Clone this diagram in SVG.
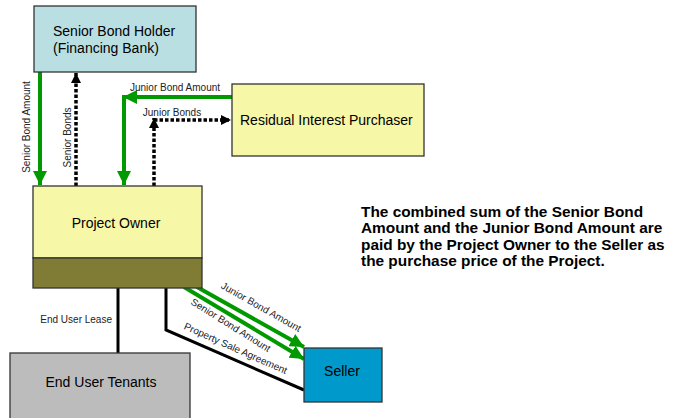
<svg xmlns="http://www.w3.org/2000/svg" width="678" height="418" viewBox="0 0 678 418">
  <style>
    .box { stroke: #333333; stroke-width: 1.3; }
    .node { font-family: "Liberation Sans", Arial, sans-serif; font-size: 14px; fill: #000; }
    .lbl { font-family: "Liberation Sans", Arial, sans-serif; font-size: 10px; fill: #222; }
    .note { font-family: "Liberation Sans", Arial, sans-serif; font-size: 15.4px; font-weight: bold; fill: #000; }
    .money { fill: none; stroke: #009900; stroke-width: 4; }
    .bond { fill: none; stroke: #000; stroke-width: 3.5; stroke-dasharray: 3.5 2; }
    .deal { fill: none; stroke: #000; stroke-width: 3; }
  </style>
  <defs>
    <marker id="headGreen" markerUnits="userSpaceOnUse" markerWidth="14" markerHeight="14" viewBox="0 0 12 12" refX="12" refY="6" orient="auto">
      <path d="M0,0 L12,6 L0,12 Z" fill="#009900"/>
    </marker>
    <marker id="headBlack" markerUnits="userSpaceOnUse" markerWidth="10" markerHeight="10" viewBox="0 0 10 10" refX="10" refY="5" orient="auto">
      <path d="M0,0 L10,5 L0,10 Z" fill="#000"/>
    </marker>
  </defs>

  <rect width="678" height="418" fill="#ffffff"/>

  <!-- connectors -->
  <g id="connectors">
    <!-- senior bond amount: bank to owner -->
    <path class="money" d="M40,72 V185" marker-end="url(#headGreen)"/>
    <!-- senior bonds: owner to bank -->
    <path class="bond" d="M76,186 V73" marker-end="url(#headBlack)"/>
    <!-- junior bond amount: purchaser to owner -->
    <path class="money" d="M232,97 H123" marker-end="url(#headGreen)"/>
    <path class="money" d="M124,95 V185" marker-end="url(#headGreen)"/>
    <!-- junior bonds: owner to purchaser -->
    <path class="bond" d="M154,186 V118" marker-end="url(#headBlack)"/>
    <path class="bond" d="M154,120 H231" marker-end="url(#headBlack)"/>
    <!-- end user lease -->
    <path class="deal" d="M118,288 V353"/>
    <!-- property sale agreement -->
    <path class="deal" d="M166,288 V330 L304,390"/>
    <!-- payments to seller -->
    <path class="money" d="M197,287 L304,347" marker-end="url(#headGreen)"/>
    <path class="money" d="M184,287 L304,359" marker-end="url(#headGreen)"/>

    <text class="lbl" text-anchor="middle" transform="translate(29.5,127) rotate(-90)">Senior Bond Amount</text>
    <text class="lbl" text-anchor="middle" transform="translate(71,137.5) rotate(-90)">Senior Bonds</text>
    <text class="lbl" x="175" y="91" text-anchor="middle">Junior Bond Amount</text>
    <text class="lbl" x="172" y="115.5" text-anchor="middle">Junior Bonds</text>
    <text class="lbl" x="112" y="323" text-anchor="end">End User Lease</text>
    <text class="lbl" text-anchor="middle" transform="translate(259.5,310) rotate(29.5)">Junior Bond Amount</text>
    <text class="lbl" text-anchor="middle" transform="translate(229,328) rotate(32)">Senior Bond Amount</text>
    <text class="lbl" text-anchor="middle" transform="translate(234.3,351.5) rotate(24)">Property Sale Agreement</text>
  </g>

  <g id="senior-bond-holder">
    <rect class="box" x="34" y="6" width="162" height="66" fill="#b9dfe3"/>
    <text class="node" x="53" y="36">Senior Bond Holder</text>
    <text class="node" x="53" y="53">(Financing Bank)</text>
  </g>

  <g id="residual-interest-purchaser">
    <rect class="box" x="232" y="84" width="192" height="72" fill="#f7f7a8"/>
    <text class="node" x="240" y="125">Residual Interest Purchaser</text>
  </g>

  <g id="project-owner">
    <rect class="box" x="33" y="186" width="169" height="72" fill="#f7f7a8"/>
    <rect class="box" x="33" y="258" width="169" height="30" fill="#807b35"/>
    <text class="node" x="116" y="228" text-anchor="middle">Project Owner</text>
  </g>

  <g id="end-user-tenants">
    <rect class="box" x="10" y="353" width="180" height="70" fill="#bcbcbc"/>
    <text class="node" x="101" y="387" text-anchor="middle">End User Tenants</text>
  </g>

  <g id="seller">
    <rect class="box" x="304" y="348" width="78" height="54" fill="#0099cc"/>
    <text class="node" x="342" y="376" text-anchor="middle">Seller</text>
  </g>

  <g id="note">
    <text class="note" x="361" y="216.7">The combined sum of the Senior Bond</text>
    <text class="note" x="361" y="233.2">Amount and the Junior Bond Amount are</text>
    <text class="note" x="361" y="249.7">paid by the Project Owner to the Seller as</text>
    <text class="note" x="361" y="266.2">the purchase price of the Project.</text>
  </g>
</svg>
